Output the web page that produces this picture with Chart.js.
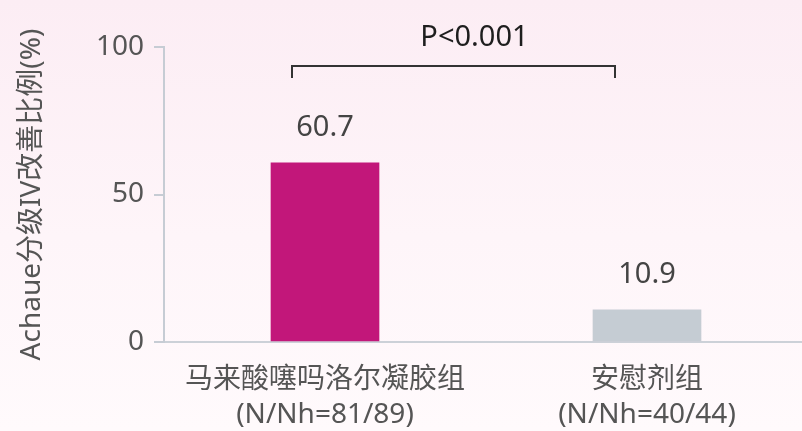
<!DOCTYPE html>
<html>
<head>
<meta charset="utf-8">
<script src="https://cdn.jsdelivr.net/npm/chart.js@4/dist/chart.umd.min.js"></script>
<style>
  html, body { margin: 0; padding: 0; overflow: hidden; }
  body { width: 802px; height: 431px; background: linear-gradient(180deg, #fcedf4 0%, #fef5f9 55%, #fffafc 100%); }
  #wrap { width: 808px; height: 431px; }
</style>
</head>
<body>
<div id="wrap"><canvas id="c" width="808" height="431"></canvas></div>
<script>
// Groups and their improvement rates
const categories = [
  ['马来酸噻吗洛尔凝胶组', '(N/Nh=81/89)'],
  ['安慰剂组', '(N/Nh=40/44)']
];
const improvementRates = [60.7, 10.9];
const barColors = ['#c2177a', '#c5ccd3'];
const yTicks = [0, 50, 100];
const axisTitle = 'Achaue分级IV改善比例(%)';
const pValueText = 'P<0.001';

const FONT = "'Noto Sans', 'Noto Sans CJK SC', sans-serif";

// Values above each bar
const valueLabels = {
  id: 'valueLabels',
  afterDatasetsDraw(chart) {
    const { ctx } = chart;
    const meta = chart.getDatasetMeta(0);
    ctx.save();
    ctx.font = '29px ' + FONT;
    ctx.fillStyle = '#444';
    ctx.textAlign = 'center';
    ctx.textBaseline = 'middle';
    meta.data.forEach((bar, i) => {
      ctx.fillText(improvementRates[i].toFixed(1), bar.x, bar.y - 35);
    });
    ctx.restore();
  }
};

// Significance bracket between the two groups
const significance = {
  id: 'significance',
  afterDraw(chart) {
    const { ctx, scales: { x, y } } = chart;
    const x0 = x.getPixelForValue(0) - 33;
    const x1 = x.getPixelForValue(1) - 32;
    const yb = y.getPixelForValue(100) + 19;
    ctx.save();
    ctx.strokeStyle = '#333';
    ctx.lineWidth = 2;
    ctx.beginPath();
    ctx.moveTo(x0, yb + 12);
    ctx.lineTo(x0, yb);
    ctx.lineTo(x1, yb);
    ctx.lineTo(x1, yb + 12);
    ctx.stroke();
    ctx.font = '29px ' + FONT;
    ctx.fillStyle = '#1e1e1e';
    ctx.textAlign = 'center';
    ctx.textBaseline = 'middle';
    ctx.fillText(pValueText, (x0 + x1) / 2 + 21, yb - 28);
    ctx.restore();
  }
};

new Chart(document.getElementById('c'), {
  type: 'bar',
  data: {
    labels: categories,
    datasets: [{
      data: improvementRates,
      backgroundColor: barColors,
      borderWidth: 0,
      barThickness: 108
    }]
  },
  options: {
    responsive: false,
    devicePixelRatio: 1,
    animation: false,
    layout: { padding: { top: 47, right: 0, left: 0, bottom: 0 } },
    plugins: { legend: { display: false }, tooltip: { enabled: false } },
    scales: {
      x: {
        grid: { display: false, drawTicks: false },
        border: { display: true, color: '#ccd1d8', width: 2 },
        ticks: {
          color: '#555',
          padding: 21,
          maxRotation: 0,
          autoSkip: false,
          font: { family: FONT, size: 28, lineHeight: 1.25 }
        },
        afterFit(scale) { scale.height = 89; }
      },
      y: {
        min: 0,
        max: 100,
        afterBuildTicks(scale) { scale.ticks = yTicks.map(v => ({ value: v })); },
        grid: { drawOnChartArea: false, drawTicks: true, tickLength: 10, color: '#c6ccd4', lineWidth: 2 },
        border: { display: true, color: '#c6ccd4', width: 2 },
        ticks: {
          color: '#555',
          padding: 10,
          font: { family: FONT, size: 28 }
        },
        title: {
          display: true,
          text: axisTitle,
          color: '#555',
          padding: { top: 15, bottom: 0 },
          font: { family: FONT, size: 28 }
        },
        afterFit(scale) { scale.width = 164; }
      }
    }
  },
  plugins: [valueLabels, significance]
});
</script>
</body>
</html>
